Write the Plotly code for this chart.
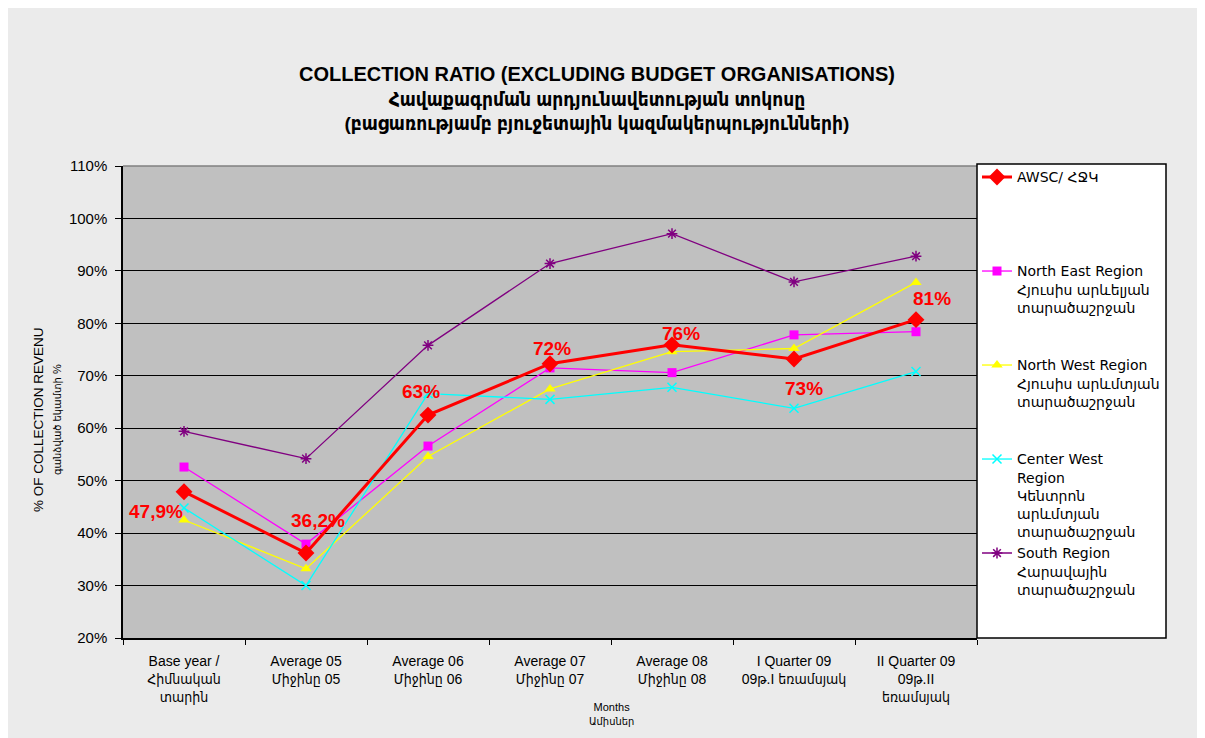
import plotly.graph_objects as go

categories = [
    "Base year /<br>Հիմնական<br>տարին",
    "Average 05<br>Միջինը 05",
    "Average 06<br>Միջինը 06",
    "Average 07<br>Միջինը 07",
    "Average 08<br>Միջինը 08",
    "I Quarter 09<br>09թ.I եռամսյակ",
    "II Quarter 09<br>09թ.II<br>եռամսյակ",
]

awsc = [47.9, 36.2, 62.5, 72.3, 75.9, 73.2, 80.7]
awsc_labels = ["47,9%", "36,2%", "63%", "72%", "76%", "73%", "81%"]
north_east = [52.6, 37.9, 56.6, 71.5, 70.6, 77.8, 78.4]
north_west = [42.5, 33.2, 54.6, 67.5, 74.6, 75.2, 87.8]
center_west = [44.8, 30.0, 66.6, 65.5, 67.8, 63.8, 70.8]
south = [59.4, 54.2, 75.8, 91.4, 97.1, 87.9, 92.8]

names = {
    "awsc": "AWSC/ ՀՋԿ<br>\u00a0<br>\u00a0<br>\u00a0<br>\u00a0",
    "ne": "North East Region<br>Հյուսիս արևելյան<br>տարածաշրջան<br>\u00a0<br>\u00a0",
    "nw": "North West Region<br>Հյուսիս արևմտյան<br>տարածաշրջան<br>\u00a0<br>\u00a0",
    "cw": "Center West<br>Region<br>Կենտրոն<br>արևմտյան<br>տարածաշրջան",
    "s": "South Region<br>Հարավային<br>տարածաշրջան",
}

# label offsets (pixels) for AWSC data labels
label_dx = [-28, 12, -7, 2, 9, 10, 16]
label_dy = [-20, 33, 24, 15, 11, -29, 21]

FONT = "Liberation Sans, Arial, DejaVu Sans Condensed, DejaVu Sans"
LEGFONT = "DejaVu Sans, Liberation Sans"

fig = go.Figure()
fig.add_trace(go.Scatter(x=categories, y=north_east, name=names["ne"], mode="lines+markers",
                         line=dict(color="#ff00ff", width=1.3),
                         marker=dict(symbol="square", size=9, color="#ff00ff"), legendrank=2))
fig.add_trace(go.Scatter(x=categories, y=north_west, name=names["nw"], mode="lines+markers",
                         line=dict(color="#ffff00", width=1.3),
                         marker=dict(symbol="triangle-up", size=10, color="#ffff00"), legendrank=3))
fig.add_trace(go.Scatter(x=categories, y=center_west, name=names["cw"], mode="lines+markers",
                         line=dict(color="#00ffff", width=1.3),
                         marker=dict(symbol="x-thin", size=9, color="#00ffff",
                                     line=dict(color="#00ffff", width=1.5)), legendrank=4))
fig.add_trace(go.Scatter(x=categories, y=south, name=names["s"], mode="lines+markers",
                         line=dict(color="#800080", width=1.3),
                         marker=dict(symbol="asterisk-open", size=9, color="#800080",
                                     line=dict(color="#800080", width=1.5)), legendrank=5))
fig.add_trace(go.Scatter(x=categories, y=awsc, name=names["awsc"], mode="lines+markers",
                         line=dict(color="#ff0000", width=3),
                         marker=dict(symbol="diamond", size=13, color="#ff0000"), legendrank=1))

for c, v, t, dx, dy in zip(categories, awsc, awsc_labels, label_dx, label_dy):
    fig.add_annotation(x=c, y=v, text=f"<b>{t}</b>", showarrow=False, xshift=dx, yshift=dy,
                       font=dict(family=FONT, size=19, color="#ff0000"))

# Title
fig.add_annotation(xref="paper", yref="paper", x=0.555, y=(638 - 61) / 472, xanchor="center",
                   yanchor="top", showarrow=False,
                   text="<b><span style='font-size:20px'>COLLECTION RATIO (EXCLUDING BUDGET ORGANISATIONS)</span><br>"
                        "Հավաքագրման արդյունավետության տոկոսը<br>"
                        "(բացառությամբ բյուջետային կազմակերպությունների)</b>",
                   font=dict(family=FONT, size=19, color="black"))

# y-axis title
fig.add_annotation(xref="paper", yref="paper", x=(47 - 123) / 854, y=0.462, xanchor="center",
                   yanchor="middle", showarrow=False, textangle=-90,
                   text="% OF COLLECTION REVENU<br><span style='font-size:11px'>գանձված եկամտի %</span>",
                   font=dict(family=FONT, size=13.5, color="black"))

# x-axis title
fig.add_annotation(xref="paper", yref="paper", x=(611 - 123) / 854, y=(638 - 699) / 472,
                   xanchor="center", yanchor="top", showarrow=False, text="Months<br>Ամիսներ",
                   font=dict(family=FONT, size=11, color="black"))

shapes = [
    # top frame line of plot area
    dict(type="line", xref="paper", yref="paper", x0=0, x1=1, y0=1, y1=1,
         line=dict(color="#808080", width=1.5)),
    # legend box
    dict(type="rect", xref="paper", yref="paper", x0=1.0, x1=(1166 - 123) / 854,
         y0=0, y1=(638 - 164) / 472, fillcolor="white", line=dict(color="black", width=1.5)),
]

fig.update_layout(
    width=1205, height=738,
    margin=dict(l=115, r=236, t=158, b=108),
    paper_bgcolor="#ebebeb",
    plot_bgcolor="#c0c0c0",
    font=dict(family=FONT, size=14, color="black"),
    shapes=shapes,
    showlegend=True,
    legend=dict(x=1.0, y=1.0097, xanchor="left", yanchor="top", bgcolor="rgba(0,0,0,0)",
                borderwidth=0, valign="top", font=dict(family=LEGFONT, size=14),
                tracegroupgap=0, itemwidth=30, maxheight=600),
    xaxis=dict(type="category", showgrid=False, showline=True, linecolor="black", linewidth=1.5,
               ticks="outside", tickson="boundaries", ticklen=5, tickcolor="black",
               tickfont=dict(family=FONT, size=14), range=[-0.5, 6.5], ticklabelstandoff=9),
    yaxis=dict(range=[20, 110], dtick=10, ticksuffix="%", showgrid=True, gridcolor="black",
               gridwidth=1, showline=True, linecolor="black", linewidth=1.5, ticks="outside",
               ticklen=6, tickcolor="black", tickfont=dict(family=FONT, size=15), zeroline=False,
               ticklabelstandoff=5),
)

fig.write_html("out.html")
